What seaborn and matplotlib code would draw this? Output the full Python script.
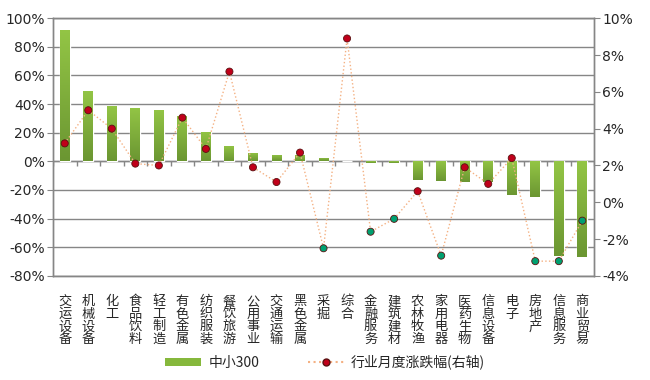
import numpy as np
import pandas as pd
import matplotlib
matplotlib.use("Agg")
import matplotlib.pyplot as plt
import seaborn as sns
from matplotlib.lines import Line2D
from matplotlib.patches import Patch
from matplotlib.colors import LinearSegmentedColormap
from matplotlib.ticker import FuncFormatter

industries = ["交运设备", "机械设备", "化工", "食品饮料", "轻工制造", "有色金属", "纺织服装",
              "餐饮旅游", "公用事业", "交通运输", "黑色金属", "采掘", "综合", "金融服务",
              "建筑建材", "农林牧渔", "家用电器", "医药生物", "信息设备", "电子", "房地产",
              "信息服务", "商业贸易"]
zx300 = [92.0, 49.3, 38.8, 37.4, 36.0, 31.9, 20.7, 10.5, 6.0, 4.2, 4.2, 2.6, 0.0, -1.2,
         -1.2, -12.8, -14.0, -14.7, -14.7, -23.7, -24.9, -65.8, -66.7]
monthly = [3.2, 5.0, 4.0, 2.1, 2.0, 4.6, 2.9, 7.1, 1.9, 1.1, 2.7, -2.5, 8.9, -1.6,
           -0.9, 0.6, -2.9, 1.9, 1.0, 2.4, -3.2, -3.2, -1.0]

df = pd.DataFrame({"industry": industries, "zx300": zx300, "monthly": monthly})

sns.set_style("white")
plt.rcParams["font.family"] = ["DejaVu Sans", "Noto Sans CJK SC"]
cjk = ["Noto Sans CJK SC", "DejaVu Sans"]
grid_c = "#868686"
bar_cmap = LinearSegmentedColormap.from_list("bar", ["#6b9632", "#93c545"])

fig = plt.figure(figsize=(6.5, 3.8), dpi=100)
ax = fig.add_axes([0.0815, 0.274, 0.8325, 0.678])

sns.barplot(data=df, x="industry", y="zx300", color="#86b83c", width=0.42,
            saturation=1, ax=ax, zorder=2)
ax.set_ylim(-80, 100)
ax.set_xlim(-0.5, len(industries) - 0.5)

# vertical gradient on each bar: light on top, darker at the bottom
grad = np.linspace(0, 1, 64).reshape(-1, 1)
for bar in ax.patches:
    x0, w = bar.get_x(), bar.get_width()
    y0, h = bar.get_y(), bar.get_height()
    lo, hi = min(y0, y0 + h), max(y0, y0 + h)
    if hi - lo <= 0:
        continue
    im = ax.imshow(grad, extent=[x0, x0 + w, lo, hi], origin="lower", aspect="auto",
                   cmap=bar_cmap, zorder=2)
    im.set_clip_path(bar)
    bar.set_facecolor("none")
ax.set_xlim(-0.5, len(industries) - 0.5)
ax.set_ylim(-80, 100)

ax.set_yticks(np.arange(-80, 101, 20))
ax.yaxis.set_major_formatter(FuncFormatter(lambda v, p: f"{v:.0f}%"))
ax.grid(axis="y", color=grid_c, linewidth=1, zorder=0)
ax.set_axisbelow(True)
ax.axhline(0, color=grid_c, linewidth=1, zorder=1)
ax.vlines(np.arange(-0.5, len(industries)), -3.5, 0, color=grid_c, linewidth=1, zorder=1)
ax.set_xticks(range(len(industries)))
ax.set_xticklabels(["\n".join(s) for s in industries], family=cjk, fontsize=9.5,
                   linespacing=0.95, va="top")
ax.tick_params(axis="x", length=0, pad=14)
ax.tick_params(axis="y", length=4, color=grid_c, labelsize=10, pad=2, left=True)
ax.set_xlabel("")
ax.set_ylabel("")
for s in ax.spines.values():
    s.set_color(grid_c)
    s.set_linewidth(1)

ax2 = ax.twinx()
ax2.plot(range(len(industries)), df["monthly"], linestyle=":", color="#f4b183",
         linewidth=1, zorder=3)
pt_colors = ["#c0001a" if v >= 0 else "#00a070" for v in monthly]
ax2.scatter(range(len(industries)), df["monthly"], s=26, c=pt_colors,
            edgecolors="#5a1010", linewidths=0.6, zorder=4)
ax2.set_ylim(-4, 10)
ax2.set_yticks(np.arange(-4, 11, 2))
ax2.yaxis.set_major_formatter(FuncFormatter(lambda v, p: f"{v:.0f}%"))
ax2.tick_params(axis="y", length=4, color=grid_c, labelsize=10, pad=2, right=True)
for s in ax2.spines.values():
    s.set_color(grid_c)
    s.set_linewidth(1)

handles = [Patch(facecolor="#86b83c", edgecolor="none"),
           Line2D([0], [0], linestyle=":", color="#f4b183", marker="o",
                  markerfacecolor="#c0001a", markeredgecolor="#5a1010", markersize=5)]
leg = fig.legend(handles, ["中小300", "行业月度涨跌幅(右轴)"], loc="center",
                 bbox_to_anchor=(0.5, 0.047), ncol=2, frameon=False,
                 prop={"family": cjk, "size": 10}, handlelength=2.6, handleheight=0.5,
                 columnspacing=3.5, handletextpad=0.5)

fig.savefig("out.png", dpi=100)
